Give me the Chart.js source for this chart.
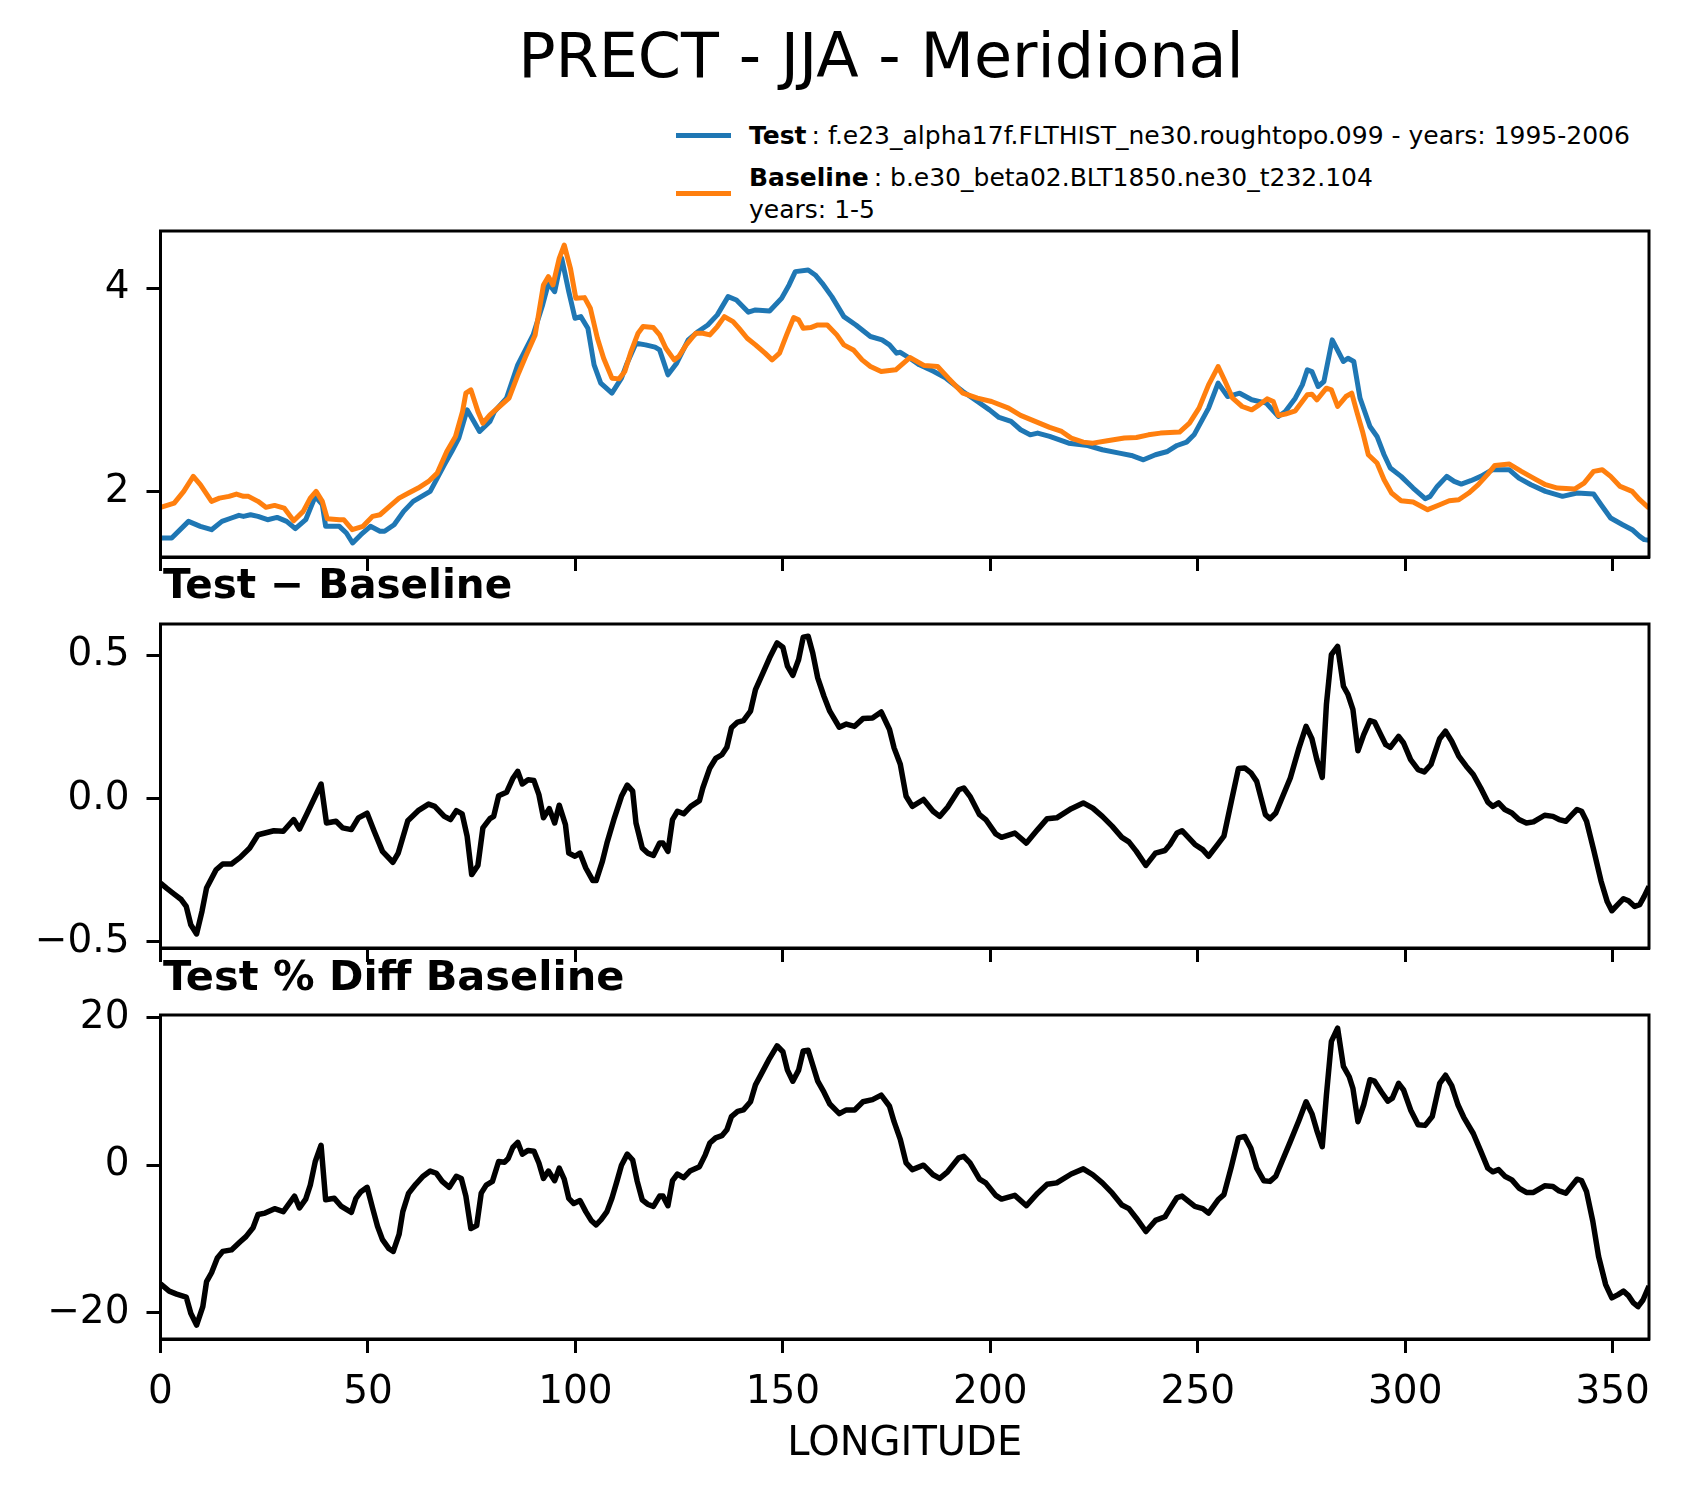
<!DOCTYPE html>
<html>
<head>
<meta charset="utf-8">
<script src="https://cdn.jsdelivr.net/npm/chart.js@4/dist/chart.umd.min.js"></script>
<style>
  html, body { margin: 0; padding: 0; background: #fff; }
  body { width: 1681px; height: 1496px; position: relative; overflow: hidden; font-family: 'DejaVu Sans', sans-serif; color: #000; }
  .abs { position: absolute; white-space: nowrap; line-height: 1; }
  canvas { position: absolute; left: 0; }
  .swatch { position: absolute; height: 5px; width: 55px; left: 676px; }
</style>
</head>
<body>
<div class="abs" id="title" style="left:881px; top:25px; font-size:62px; transform:translateX(-50%);">PRECT - JJA - Meridional</div>

<div class="swatch" style="top:133px; background:#1f77b4;"></div>
<div class="abs" style="left:749px; top:123px; font-size:25px;"><b>Test</b>&#8201;: f.e23_alpha17f.FLTHIST_ne30.roughtopo.099 - years: 1995-2006</div>
<div class="swatch" style="top:190.5px; background:#ff7f0e;"></div>
<div class="abs" style="left:749px; top:165px; font-size:25px;"><b>Baseline</b>&#8201;: b.e30_beta02.BLT1850.ne30_t232.104</div>
<div class="abs" style="left:749px; top:197px; font-size:25px;">years: 1-5</div>

<canvas id="c1" width="1681" height="390" style="top:200px;"></canvas>
<canvas id="c2" width="1681" height="375" style="top:595px;"></canvas>
<canvas id="c3" width="1681" height="506" style="top:990px;"></canvas>

<div class="abs" style="left:163px; top:564px; font-size:40.5px; font-weight:bold;">Test − Baseline</div>
<div class="abs" style="left:163px; top:955px; font-size:41.5px; font-weight:bold;">Test % Diff Baseline</div>

<script>
// ---------- data ----------
const xTicks = [0, 50, 100, 150, 200, 250, 300, 350];
const xTickLabels = ['0', '50', '100', '150', '200', '250', '300', '350'];
const xLabel = 'LONGITUDE';

const yTicks1 = [2, 4];
const yTickLabels1 = ['2', '4'];
const yTicks2 = [-0.5, 0, 0.5];
const yTickLabels2 = ['\u22120.5', '0.0', '0.5'];
const yTicks3 = [-20, 0, 20];
const yTickLabels3 = ['\u221220', '0', '20'];

const testLon = [0, 2.7, 6.75, 9.6, 12.3, 14.8, 17.1, 18.9, 20.0, 21.7, 23.5, 25.8, 28.1, 30.4, 32.5, 35.0, 37.3, 39.0, 39.8, 43.1, 44.8, 46.3, 48.3, 50.6, 52.9, 54.0, 56.3, 58.6, 60.9, 65.0, 66.7, 68.4, 70.2, 71.9, 73.9, 76.9, 79.4, 80.5, 83.4, 86.1, 89.8, 92.1, 93.5, 95.0, 96.7, 98.4, 99.9, 101.3, 103.0, 104.5, 106.1, 108.8, 111.1, 112.3, 114.6, 116.9, 119.2, 120.3, 122.3, 124.4, 127.2, 129.6, 131.9, 134.2, 136.8, 138.8, 141.7, 143.4, 146.8, 149.7, 151.5, 153.0, 156.1, 157.8, 159.5, 161.8, 164.7, 167.6, 171.1, 173.9, 175.7, 177.4, 178.3, 180.6, 182.9, 186.4, 189.3, 193.4, 196.9, 199.8, 202.1, 205.0, 207.3, 209.6, 211.4, 214.3, 218.9, 223.5, 227.0, 231.1, 234.0, 236.9, 239.8, 242.7, 245.0, 247.3, 249.1, 252.6, 254.9, 257.2, 260.1, 263.0, 266.5, 269.4, 271.1, 273.5, 275.2, 276.4, 277.5, 279.0, 280.4, 282.4, 285.1, 286.2, 287.6, 289.1, 291.5, 293.2, 294.9, 296.4, 299.0, 301.9, 304.8, 306.0, 307.7, 310.0, 311.8, 313.5, 315.8, 318.2, 321.0, 325.1, 327.4, 330.3, 333.8, 337.9, 341.4, 345.4, 347.2, 349.5, 352.4, 354.7, 356.5, 357.6, 358.75];
const testVal = [1.541, 1.541, 1.705, 1.656, 1.623, 1.705, 1.738, 1.764, 1.754, 1.770, 1.754, 1.721, 1.744, 1.705, 1.633, 1.721, 1.951, 1.869, 1.656, 1.656, 1.590, 1.492, 1.574, 1.656, 1.607, 1.607, 1.672, 1.803, 1.902, 2.000, 2.131, 2.262, 2.393, 2.525, 2.803, 2.590, 2.689, 2.787, 2.918, 3.246, 3.541, 3.836, 4.049, 3.967, 4.295, 3.967, 3.705, 3.721, 3.607, 3.246, 3.066, 2.967, 3.115, 3.246, 3.459, 3.443, 3.420, 3.393, 3.148, 3.262, 3.492, 3.574, 3.639, 3.738, 3.918, 3.885, 3.764, 3.787, 3.777, 3.902, 4.033, 4.164, 4.180, 4.131, 4.049, 3.918, 3.721, 3.639, 3.525, 3.492, 3.443, 3.361, 3.370, 3.311, 3.246, 3.180, 3.115, 2.984, 2.885, 2.803, 2.728, 2.689, 2.607, 2.557, 2.574, 2.541, 2.475, 2.452, 2.410, 2.377, 2.354, 2.311, 2.361, 2.393, 2.452, 2.485, 2.557, 2.820, 3.066, 2.934, 2.967, 2.902, 2.869, 2.738, 2.787, 2.918, 3.049, 3.197, 3.180, 3.033, 3.082, 3.492, 3.279, 3.311, 3.279, 2.918, 2.639, 2.541, 2.361, 2.230, 2.148, 2.033, 1.928, 1.951, 2.049, 2.148, 2.098, 2.072, 2.105, 2.148, 2.213, 2.213, 2.131, 2.066, 2.000, 1.951, 1.984, 1.974, 1.869, 1.738, 1.672, 1.623, 1.557, 1.525, 1.520];

const baseLon = [0, 3.3, 5.6, 7.9, 9.6, 12.3, 14.2, 16.5, 18.3, 20.0, 21.2, 23.5, 25.4, 27.5, 29.8, 32.1, 34.4, 36.1, 37.5, 39.0, 40.2, 43.1, 44.2, 46.2, 48.8, 51.1, 52.9, 55.2, 57.5, 59.8, 62.1, 64.6, 66.7, 69.0, 71.1, 72.8, 73.6, 74.8, 76.5, 77.7, 79.4, 81.7, 84.0, 86.3, 88.0, 90.3, 92.3, 93.5, 94.6, 96.1, 97.3, 98.8, 100.1, 102.2, 103.6, 105.3, 106.8, 108.8, 110.5, 111.9, 113.4, 115.1, 116.3, 118.8, 120.3, 121.8, 123.8, 124.9, 126.7, 129.0, 130.7, 132.4, 134.2, 135.9, 138.0, 139.4, 141.4, 143.4, 145.7, 147.4, 149.2, 150.9, 152.6, 153.8, 154.9, 156.7, 158.4, 160.7, 163.0, 164.7, 167.0, 169.1, 171.1, 173.7, 177.2, 180.6, 184.1, 187.3, 189.9, 193.4, 196.9, 200.3, 204.4, 207.3, 210.8, 214.3, 217.2, 219.5, 222.4, 224.7, 228.2, 232.3, 235.2, 238.1, 241.0, 245.6, 248.0, 250.3, 252.6, 254.9, 256.6, 258.4, 260.7, 263.0, 264.8, 266.7, 268.2, 269.4, 271.1, 273.5, 276.4, 277.5, 278.7, 281.0, 282.2, 283.7, 285.7, 287.1, 288.3, 289.7, 291.1, 293.2, 294.9, 296.7, 299.0, 301.9, 305.4, 308.3, 310.6, 312.9, 315.3, 317.6, 319.9, 321.6, 325.1, 328.0, 330.9, 333.8, 336.7, 340.8, 343.1, 345.4, 347.5, 349.5, 351.8, 354.7, 356.5, 358.75];
const baseVal = [1.843, 1.885, 2.000, 2.148, 2.066, 1.902, 1.934, 1.951, 1.974, 1.951, 1.951, 1.902, 1.843, 1.862, 1.836, 1.711, 1.803, 1.934, 2.000, 1.902, 1.731, 1.721, 1.721, 1.623, 1.656, 1.754, 1.770, 1.852, 1.934, 1.984, 2.033, 2.098, 2.180, 2.393, 2.541, 2.787, 2.967, 3.000, 2.787, 2.672, 2.754, 2.836, 2.918, 3.164, 3.328, 3.541, 4.033, 4.115, 4.033, 4.295, 4.426, 4.197, 3.902, 3.908, 3.803, 3.508, 3.311, 3.115, 3.108, 3.180, 3.377, 3.557, 3.623, 3.613, 3.541, 3.410, 3.295, 3.328, 3.443, 3.557, 3.557, 3.541, 3.623, 3.721, 3.672, 3.607, 3.508, 3.443, 3.361, 3.295, 3.361, 3.541, 3.711, 3.689, 3.607, 3.613, 3.639, 3.639, 3.541, 3.443, 3.393, 3.295, 3.230, 3.180, 3.197, 3.318, 3.239, 3.230, 3.115, 2.967, 2.918, 2.885, 2.820, 2.748, 2.689, 2.630, 2.590, 2.525, 2.485, 2.475, 2.498, 2.525, 2.531, 2.557, 2.574, 2.584, 2.672, 2.820, 3.049, 3.229, 3.082, 2.918, 2.836, 2.803, 2.852, 2.911, 2.885, 2.748, 2.761, 2.793, 2.951, 2.957, 2.902, 3.016, 3.000, 2.836, 2.934, 2.967, 2.787, 2.590, 2.361, 2.279, 2.115, 1.984, 1.908, 1.895, 1.820, 1.869, 1.908, 1.918, 1.984, 2.066, 2.170, 2.256, 2.269, 2.197, 2.131, 2.066, 2.033, 2.023, 2.082, 2.197, 2.213, 2.148, 2.049, 2.000, 1.918, 1.836];

const diffLon = [0, 1.6, 3.3, 5.0, 6.2, 7.3, 8.7, 10.0, 11.1, 13.4, 15.0, 17.1, 19.2, 21.5, 23.5, 25.2, 27.3, 29.6, 32.1, 33.5, 35.3, 37.1, 38.7, 40.0, 42.3, 43.9, 46.0, 47.7, 49.8, 51.5, 53.5, 56.0, 57.3, 59.6, 62.1, 64.6, 66.1, 68.4, 69.9, 71.3, 72.7, 73.9, 75.0, 76.5, 77.7, 79.4, 80.3, 81.5, 83.4, 84.9, 86.1, 87.2, 88.6, 90.0, 91.2, 92.3, 93.7, 95.0, 96.1, 97.6, 98.4, 99.9, 101.1, 102.5, 104.2, 105.0, 106.5, 107.6, 109.4, 111.1, 112.5, 113.8, 114.6, 116.1, 117.4, 118.8, 120.3, 121.1, 122.3, 123.4, 124.6, 126.1, 127.8, 129.9, 130.7, 132.4, 133.8, 135.3, 136.5, 137.6, 139.1, 140.5, 142.2, 143.4, 145.1, 146.8, 148.6, 150.0, 151.1, 152.4, 153.8, 154.9, 156.1, 157.2, 158.4, 159.9, 161.3, 163.6, 165.3, 167.3, 169.3, 171.6, 173.7, 175.7, 176.8, 178.3, 179.7, 181.2, 183.9, 186.2, 187.8, 189.7, 192.4, 193.6, 195.1, 197.4, 198.9, 201.3, 202.7, 205.9, 208.7, 211.4, 213.7, 216.0, 219.5, 222.4, 224.7, 227.0, 229.4, 231.7, 233.4, 235.2, 237.5, 239.8, 242.1, 243.3, 245.0, 246.2, 249.3, 251.2, 252.6, 254.9, 256.3, 258.1, 259.8, 261.3, 262.8, 264.2, 266.3, 267.4, 268.8, 272.3, 274.4, 276.1, 277.5, 278.7, 280.0, 281.0, 282.2, 283.7, 285.1, 286.2, 287.4, 288.6, 290.0, 291.5, 292.6, 294.1, 295.3, 296.4, 298.4, 299.6, 301.3, 303.1, 304.6, 306.2, 308.3, 309.7, 311.2, 312.9, 314.7, 316.4, 318.2, 319.9, 321.1, 322.5, 324.0, 325.7, 327.4, 329.2, 330.9, 333.6, 335.6, 337.1, 338.7, 340.2, 341.4, 342.5, 343.7, 345.4, 347.2, 348.7, 349.8, 351.2, 352.6, 353.8, 355.3, 356.5, 357.6, 358.75];
const diffVal = [-0.295, -0.314, -0.333, -0.352, -0.376, -0.440, -0.472, -0.393, -0.312, -0.248, -0.228, -0.228, -0.205, -0.172, -0.126, -0.120, -0.112, -0.114, -0.073, -0.106, -0.053, 0.002, 0.051, -0.085, -0.079, -0.102, -0.108, -0.067, -0.051, -0.114, -0.184, -0.222, -0.190, -0.077, -0.042, -0.019, -0.027, -0.062, -0.073, -0.042, -0.053, -0.131, -0.265, -0.233, -0.102, -0.070, -0.062, 0.010, 0.022, 0.070, 0.095, 0.051, 0.066, 0.063, 0.014, -0.067, -0.035, -0.085, -0.023, -0.091, -0.190, -0.201, -0.190, -0.242, -0.286, -0.286, -0.219, -0.155, -0.067, 0.008, 0.047, 0.026, -0.085, -0.172, -0.190, -0.198, -0.155, -0.155, -0.184, -0.073, -0.044, -0.053, -0.027, -0.007, 0.037, 0.107, 0.140, 0.153, 0.179, 0.247, 0.267, 0.272, 0.305, 0.380, 0.435, 0.491, 0.543, 0.528, 0.462, 0.430, 0.485, 0.563, 0.566, 0.508, 0.421, 0.357, 0.305, 0.249, 0.260, 0.252, 0.279, 0.281, 0.302, 0.241, 0.177, 0.120, 0.008, -0.027, -0.003, -0.044, -0.062, -0.030, 0.031, 0.037, 0.008, -0.056, -0.073, -0.123, -0.135, -0.120, -0.155, -0.108, -0.070, -0.067, -0.035, -0.015, -0.033, -0.062, -0.097, -0.135, -0.151, -0.184, -0.233, -0.190, -0.181, -0.160, -0.120, -0.112, -0.160, -0.178, -0.201, -0.158, -0.131, -0.009, 0.105, 0.107, 0.090, 0.060, -0.056, -0.070, -0.050, 0.072, 0.177, 0.252, 0.209, 0.136, 0.074, 0.328, 0.502, 0.531, 0.392, 0.363, 0.310, 0.167, 0.223, 0.272, 0.267, 0.223, 0.188, 0.179, 0.217, 0.194, 0.136, 0.101, 0.093, 0.119, 0.209, 0.235, 0.200, 0.148, 0.113, 0.084, 0.037, -0.012, -0.027, -0.015, -0.038, -0.050, -0.073, -0.085, -0.081, -0.058, -0.062, -0.073, -0.079, -0.056, -0.038, -0.044, -0.079, -0.178, -0.288, -0.360, -0.391, -0.370, -0.349, -0.356, -0.376, -0.370, -0.341, -0.306];

const pctLon = [0, 2.1, 3.9, 6.2, 7.3, 8.7, 10.2, 11.1, 12.3, 13.7, 15.0, 17.1, 19.2, 20.6, 22.3, 23.5, 25.2, 27.5, 29.6, 32.3, 33.5, 35.0, 36.1, 37.3, 38.7, 39.8, 41.9, 43.6, 46.0, 47.1, 48.3, 49.8, 51.1, 52.3, 53.5, 55.0, 56.1, 57.5, 58.4, 59.8, 61.5, 63.3, 65.0, 66.5, 67.9, 69.6, 71.3, 72.5, 73.6, 74.8, 76.2, 77.3, 78.5, 80.0, 81.5, 82.9, 83.8, 84.9, 86.1, 87.2, 88.6, 90.0, 91.2, 92.3, 93.5, 95.0, 96.1, 97.3, 98.4, 99.6, 101.1, 102.5, 103.8, 105.0, 106.2, 107.6, 108.8, 110.0, 111.1, 112.5, 113.8, 114.9, 116.1, 117.4, 118.8, 120.3, 121.1, 122.3, 123.4, 124.6, 126.1, 127.6, 129.9, 131.3, 132.4, 133.8, 135.3, 136.5, 137.6, 139.1, 140.5, 142.2, 143.4, 145.1, 146.8, 148.6, 150.0, 151.1, 152.4, 153.8, 154.9, 156.1, 157.2, 158.4, 159.9, 161.3, 163.6, 165.3, 167.3, 169.3, 171.6, 173.7, 175.7, 176.8, 178.3, 179.7, 181.2, 183.9, 186.2, 187.8, 189.7, 192.4, 193.6, 195.1, 197.4, 198.9, 201.3, 202.7, 205.9, 208.7, 211.4, 213.7, 216.0, 219.5, 222.4, 224.7, 227.0, 229.4, 231.7, 233.4, 235.2, 237.5, 239.8, 242.1, 243.3, 245.0, 246.2, 249.3, 251.2, 252.6, 254.9, 256.3, 258.1, 259.8, 261.3, 262.8, 264.2, 265.9, 267.4, 268.8, 272.3, 274.4, 276.1, 277.5, 278.7, 280.0, 281.0, 282.2, 283.7, 285.1, 286.5, 287.4, 288.6, 290.0, 291.5, 292.6, 294.3, 295.8, 296.9, 298.4, 299.6, 301.3, 303.1, 304.8, 306.5, 308.3, 309.7, 311.2, 312.7, 314.1, 316.4, 318.2, 319.9, 321.1, 322.5, 324.0, 325.7, 327.4, 329.2, 330.9, 333.6, 335.6, 337.1, 338.7, 340.0, 341.4, 342.5, 343.7, 345.2, 346.6, 348.3, 349.8, 351.2, 352.6, 353.8, 355.0, 356.1, 357.3, 358.75];
const pctVal = [-16.1, -17.1, -17.5, -17.9, -20.1, -21.7, -19.2, -15.8, -14.6, -12.6, -11.7, -11.5, -10.4, -9.7, -8.5, -6.7, -6.5, -5.9, -6.3, -4.2, -5.8, -4.6, -2.7, 0.5, 2.7, -4.7, -4.5, -5.6, -6.4, -4.5, -3.6, -3.0, -5.8, -8.3, -10.1, -11.3, -11.7, -9.4, -6.3, -3.8, -2.6, -1.5, -0.8, -1.1, -2.2, -3.0, -1.5, -1.8, -4.2, -8.6, -8.2, -3.8, -2.7, -2.2, 0.5, 0.4, 0.9, 2.4, 3.1, 1.5, 2.0, 1.9, 0.3, -1.8, -0.8, -2.1, -0.4, -1.9, -4.5, -5.2, -4.8, -6.3, -7.5, -8.1, -7.4, -6.3, -4.5, -2.2, 0.0, 1.5, 0.7, -2.2, -4.7, -5.3, -5.6, -4.2, -4.2, -5.5, -2.1, -1.2, -1.7, -0.8, -0.2, 1.4, 3.0, 3.7, 4.0, 4.8, 6.6, 7.3, 7.5, 8.6, 10.9, 12.7, 14.5, 16.2, 15.4, 12.9, 11.4, 12.9, 15.5, 15.6, 13.6, 11.4, 9.9, 8.3, 7.0, 7.5, 7.5, 8.6, 8.9, 9.5, 8.0, 5.9, 3.5, 0.3, -0.6, 0.0, -1.3, -1.8, -0.9, 1.0, 1.2, 0.3, -1.9, -2.4, -4.1, -4.6, -4.1, -5.5, -3.8, -2.6, -2.4, -1.2, -0.5, -1.3, -2.4, -3.8, -5.4, -5.9, -7.2, -9.0, -7.5, -7.0, -5.9, -4.4, -4.2, -5.6, -5.9, -6.5, -4.7, -4.0, -0.2, 3.7, 3.9, 2.3, -0.4, -2.1, -2.2, -1.5, 3.2, 6.1, 8.6, 7.0, 4.7, 2.5, 9.5, 16.8, 18.6, 13.4, 12.0, 10.4, 5.9, 8.2, 11.6, 11.4, 9.9, 8.7, 9.1, 11.1, 10.2, 7.5, 5.5, 5.4, 6.6, 11.1, 12.2, 10.8, 8.2, 6.5, 4.3, 1.9, -0.4, -0.9, -0.6, -1.5, -2.0, -3.1, -3.7, -3.7, -2.8, -2.9, -3.5, -3.8, -2.9, -1.9, -2.1, -3.6, -7.6, -12.4, -16.2, -18.0, -17.6, -17.1, -17.7, -18.7, -19.2, -18.3, -16.4];

// ---------- drawing ----------
Chart.defaults.font.family = "'DejaVu Sans', sans-serif";
Chart.defaults.color = '#000';

const frame = {
  id: 'frame',
  afterDraw(chart) {
    const a = chart.chartArea, ctx = chart.ctx;
    ctx.save();
    ctx.strokeStyle = '#000';
    ctx.lineWidth = 3;
    ctx.strokeRect(a.left, a.top, a.right - a.left, a.bottom - a.top);
    ctx.restore();
  }
};

function pts(lon, val) { return lon.map((x, i) => ({ x: x, y: val[i] })); }

function noPad(ax) { ax.paddingTop = 0; ax.paddingBottom = 0; ax.paddingLeft = 0; ax.paddingRight = 0; }

function makeChart(id, datasets, cfg) {
  const tickFont = { size: 39, lineHeight: 1.2 };
  return new Chart(document.getElementById(id), {
    type: 'line',
    data: { datasets: datasets },
    options: {
      responsive: false,
      animation: false,
      devicePixelRatio: 1,
      layout: { padding: { top: cfg.padTop, right: 32, bottom: 0, left: 0 } },
      plugins: { legend: { display: false }, tooltip: { enabled: false }, title: { display: false } },
      elements: { point: { radius: 0 }, line: { tension: 0, borderJoinStyle: 'round', borderCapStyle: 'butt' } },
      scales: {
        x: {
          type: 'linear', min: 0, max: 358.75,
          afterBuildTicks: ax => { ax.ticks = xTicks.map(v => ({ value: v })); },
          afterFit: ax => { ax.height = cfg.xHeight; noPad(ax); },
          ticks: { display: cfg.xLabels, font: tickFont, color: '#000', padding: 16, maxRotation: 0, autoSkip: false,
                   callback: (v, i) => xTickLabels[i] },
          grid: { drawOnChartArea: false, drawTicks: true, tickLength: 14, tickWidth: 3, tickColor: '#000', color: '#000' },
          border: { display: true, color: '#000', width: 3 },
          title: { display: cfg.xLabels, text: xLabel, font: { size: 40, lineHeight: 1.2 }, color: '#000', padding: { top: 0, bottom: 27 } }
        },
        y: {
          type: 'linear', min: cfg.yMin, max: cfg.yMax,
          afterBuildTicks: ax => { ax.ticks = cfg.yTicks.map(v => ({ value: v })); },
          afterFit: ax => { ax.width = 160.5; noPad(ax); },
          ticks: { font: tickFont, color: '#000', padding: 17, callback: (v, i) => cfg.yLabels[i] },
          grid: { drawOnChartArea: false, drawTicks: true, tickLength: 14, tickWidth: 3, tickColor: '#000', color: '#000' },
          border: { display: true, color: '#000', width: 3 }
        }
      }
    },
    plugins: [frame]
  });
}

makeChart('c1', [
  { label: 'Test', data: pts(testLon, testVal), borderColor: '#1f77b4', borderWidth: 5, order: 2 },
  { label: 'Baseline', data: pts(baseLon, baseVal), borderColor: '#ff7f0e', borderWidth: 5, order: 1 }
], { padTop: 31, xHeight: 33, xLabels: false, yMin: 1.354, yMax: 4.564, yTicks: yTicks1, yLabels: yTickLabels1 });

makeChart('c2', [
  { label: 'Test - Baseline', data: pts(diffLon, diffVal), borderColor: '#000', borderWidth: 5.5 }
], { padTop: 29, xHeight: 22, xLabels: false, yMin: -0.521, yMax: 0.609, yTicks: yTicks2, yLabels: yTickLabels2 });

makeChart('c3', [
  { label: 'Test % Diff Baseline', data: pts(pctLon, pctVal), borderColor: '#000', borderWidth: 5.5 }
], { padTop: 25, xHeight: 157, xLabels: true, yMin: -23.59, yMax: 20.38, yTicks: yTicks3, yLabels: yTickLabels3 });
</script>
</body>
</html>
